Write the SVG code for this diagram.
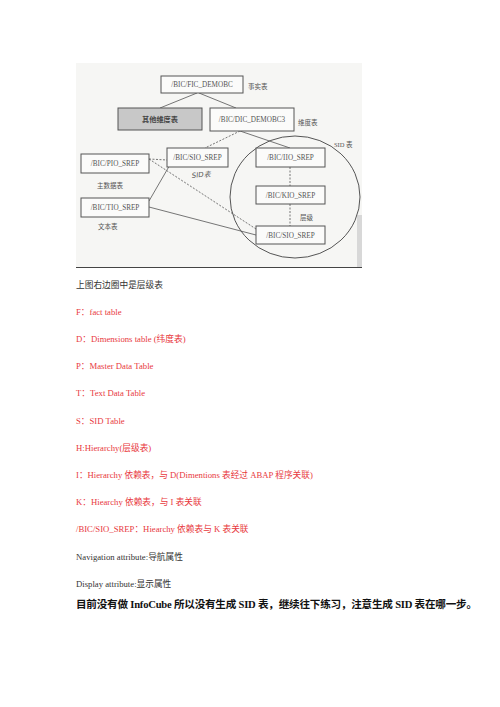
<svg xmlns="http://www.w3.org/2000/svg" width="500" height="707" viewBox="0 0 500 707">
<style>
.box{fill:#fbfbfa;stroke:#555;stroke-width:1}
.bt{font-family:"Liberation Serif","Noto Sans CJK SC",serif;font-size:7.2px;fill:#555;text-anchor:middle}
.lb{font-family:"Liberation Serif","Noto Sans CJK SC",serif;font-size:6.5px;fill:#555}
.ln{stroke:#666;stroke-width:0.9;fill:none}
.dl{stroke:#666;stroke-width:0.9;fill:none;stroke-dasharray:2 1.5}
.t{font-family:"Liberation Serif","Noto Sans CJK SC",serif;font-size:8.7px}
.red{fill:#e8383d}
.blk{fill:#333}
</style>
<rect width="500" height="707" fill="#fff"/>
<rect x="76" y="63" width="286" height="204" fill="#f6f6f4"/>
<rect x="357" y="215" width="5" height="52" fill="#d8d8d8"/>
<line x1="76" y1="267.5" x2="362" y2="267.5" stroke="#444" stroke-width="1.2"/>
<g id="connectors">
<line class="ln" x1="197" y1="93" x2="160" y2="108"/>
<line class="ln" x1="199" y1="93" x2="236" y2="108"/>
<line class="dl" x1="240" y1="131" x2="205" y2="148"/>
<line class="ln" x1="240" y1="131" x2="290" y2="148"/>
<line class="dl" x1="149" y1="159" x2="167" y2="160"/>
<line class="dl" x1="149" y1="159" x2="256" y2="229"/>
<line class="ln" x1="149" y1="201" x2="171" y2="163"/>
<line class="ln" x1="149" y1="207" x2="256" y2="235"/>
<line class="dl" x1="290" y1="167" x2="290" y2="186"/>
<line class="dl" x1="290" y1="204" x2="290" y2="226"/>
</g>
<ellipse id="sid-circle" cx="295" cy="197" rx="65" ry="61" fill="none" stroke="#555" stroke-width="1"/>
<g id="fic"><rect class="box" x="161" y="76" width="82" height="17"/><text class="bt" x="202" y="87">/BIC/FIC_DEMOBC</text></g>
<text class="lb" x="248" y="89">事实表</text>
<g id="other"><rect x="118" y="108" width="84" height="22" fill="#c8c8c8" stroke="#555" stroke-width="1"/><text class="bt" x="160" y="121.5" font-weight="bold" style="fill:#444">其他维度表</text></g>
<g id="dic"><rect class="box" x="210" y="108" width="84" height="23"/><text class="bt" x="252" y="122">/BIC/DIC_DEMOBC3</text></g>
<text class="lb" x="298" y="125">维度表</text>
<text class="lb" x="334" y="147">SID 表</text>
<g id="sio-mid"><rect class="box" x="167" y="148" width="61" height="19"/><text class="bt" x="197.5" y="160">/BIC/SIO_SREP</text></g>
<text x="192" y="178" font-family="'DejaVu Sans',sans-serif" font-size="7" fill="#555" font-style="italic" transform="rotate(-6 192 178)">SID表</text>
<g id="pio"><rect class="box" x="81" y="154" width="68" height="19"/><text class="bt" x="115" y="166">/BIC/PIO_SREP</text></g>
<text class="lb" x="97" y="188">主数据表</text>
<g id="tio"><rect class="box" x="81" y="198" width="68" height="19"/><text class="bt" x="115" y="210">/BIC/TIO_SREP</text></g>
<text class="lb" x="98" y="229">文本表</text>
<g id="iio"><rect class="box" x="256" y="148" width="69" height="19"/><text class="bt" x="290.5" y="160">/BIC/IIO_SREP</text></g>
<g id="kio"><rect class="box" x="256" y="186" width="69" height="18"/><text class="bt" x="290.5" y="197.5">/BIC/KIO_SREP</text></g>
<text class="lb" x="300" y="220">层级</text>
<g id="sio-bot"><rect class="box" x="256" y="226" width="69" height="18"/><text class="bt" x="290.5" y="237.5">/BIC/SIO_SREP</text></g>
<text class="t blk" x="76" y="288">上图右边圈中是层级表</text>
<text class="t red" x="76" y="315">F：fact table</text>
<text class="t red" x="76" y="342">D：Dimensions table (纬度表)</text>
<text class="t red" x="76" y="369">P：Master Data Table</text>
<text class="t red" x="76" y="396">T：Text Data Table</text>
<text class="t red" x="76" y="424">S：SID Table</text>
<text class="t red" x="76" y="451">H:Hierarchy(层级表)</text>
<text class="t red" x="76" y="478">I：Hierarchy 依赖表，与 D(Dimentions 表经过 ABAP 程序关联)</text>
<text class="t red" x="76" y="505">K：Hiearchy 依赖表，与 I 表关联</text>
<text class="t red" x="76" y="532">/BIC/SIO_SREP：Hiearchy 依赖表与 K 表关联</text>
<text class="t blk" x="76" y="560">Navigation attribute:导航属性</text>
<text class="t blk" x="76" y="587">Display attribute:显示属性</text>
<text x="76" y="608" font-family="'Liberation Serif','Noto Sans CJK SC',serif" font-size="10.6" font-weight="bold" fill="#111" textLength="401">目前没有做 InfoCube 所以没有生成 SID 表，继续往下练习，注意生成 SID 表在哪一步。</text>
</svg>
